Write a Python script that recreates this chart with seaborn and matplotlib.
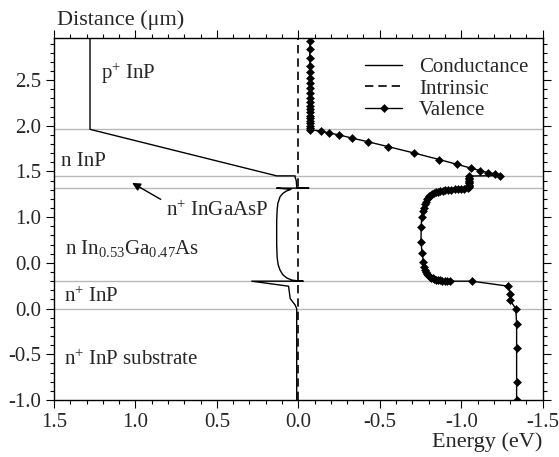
import numpy as np
import pandas as pd
import matplotlib
matplotlib.use('Agg')
import matplotlib.pyplot as plt
import seaborn as sns

# layer boundaries (um)
boundaries = [0.0, 0.30, 1.32, 1.45, 1.96]

# conduction band: energy (eV), distance (um), bottom to top
cond_e = [0.01, 0.01, 0.02, 0.05, 0.06, 0.286, -0.03, 0.01, 0.04, 0.071, 0.095, 0.112,
          0.124, 0.13, 0.133, 0.133, 0.13, 0.126, 0.112, 0.095, 0.075, 0.045, 0.133,
          -0.065, 0.01, 0.01, 0.013, 0.02, 0.02, 0.133, 1.279, 1.279]
cond_d = [-1.0, 0.0, 0.04, 0.11, 0.245, 0.30, 0.30, 0.305, 0.312, 0.335, 0.37, 0.42,
          0.48, 0.56, 0.70, 0.96, 1.08, 1.15, 1.225, 1.26, 1.285, 1.305, 1.318,
          1.318, 1.325, 1.34, 1.40, 1.44, 1.452, 1.452, 1.961, 2.97]

# intrinsic level
intr_e = [0.0, 0.0]
intr_d = [-1.0, 2.97]

# valence band
val_e = [-1.34, -1.34, -1.34, -1.34, -1.335, -1.30, -1.30, -1.29, -1.065,
         -0.93, -0.915, -0.90, -0.885, -0.87, -0.858, -0.846, -0.835, -0.825, -0.815,
         -0.806, -0.798, -0.791, -0.785, -0.779, -0.773, -0.768, -0.76, -0.753, -0.754,
         -0.758, -0.765, -0.77, -0.776, -0.782, -0.788, -0.795, -0.803, -0.812, -0.822,
         -0.833, -0.845, -0.858, -0.872, -0.887, -0.903, -0.92, -0.94, -0.96, -0.98,
         -1.00, -1.02, -1.04, -1.05, -1.05, -1.05, -1.05, -1.05, -1.05, -1.05, -1.05,
         -1.05, -1.24, -1.206, -1.167, -1.118, -1.059, -0.975, -0.866, -0.713, -0.553,
         -0.430, -0.328, -0.252, -0.191, -0.137, -0.072, -0.07, -0.07, -0.07, -0.07,
         -0.07, -0.07, -0.07, -0.07, -0.07, -0.07, -0.07, -0.07, -0.07, -0.07, -0.07,
         -0.07, -0.07, -0.07, -0.07, -0.07, -0.07]
val_d = [-1.0, -0.80, -0.43, -0.165, 0.0, 0.09, 0.165, 0.245, 0.30,
         0.30, 0.301, 0.303, 0.305, 0.308, 0.312, 0.317, 0.323, 0.330, 0.339,
         0.35, 0.363, 0.378, 0.395, 0.42, 0.455, 0.51, 0.605, 0.73, 0.895,
         1.005, 1.07, 1.10, 1.14, 1.17, 1.195, 1.215, 1.232, 1.246, 1.258,
         1.267, 1.275, 1.281, 1.286, 1.290, 1.294, 1.297, 1.30, 1.303, 1.306,
         1.309, 1.312, 1.316, 1.325, 1.34, 1.355, 1.37, 1.385, 1.40, 1.415, 1.43,
         1.45, 1.455, 1.475, 1.487, 1.508, 1.537, 1.578, 1.630, 1.701, 1.771,
         1.824, 1.866, 1.899, 1.921, 1.940, 1.958, 1.975, 2.003, 2.025, 2.054,
         2.083, 2.111, 2.148, 2.184, 2.219, 2.263, 2.307, 2.355, 2.409, 2.464, 2.525,
         2.590, 2.655, 2.742, 2.837, 2.925, 2.97]

ytick_pos = [-1.0, -0.5, 0.0, 0.5, 1.0, 1.5, 2.0, 2.5]
ytick_lab = ['-1.0', '-0.5', '0.0', '0.0', '1.0', '1.5', '2.0', '2.5']
xtick_pos = [1.5, 1.0, 0.5, 0.0, -0.5, -1.0, -1.5]
xtick_lab = ['1.5', '1.0', '0.5', '0.0', '-0.5', '-1.0', '-1.5']

sns.set_style('ticks')
plt.rcParams['font.family'] = ['Liberation Serif', 'DejaVu Serif']
plt.rcParams['mathtext.fontset'] = 'custom'
plt.rcParams['mathtext.rm'] = 'Liberation Serif'
plt.rcParams['mathtext.it'] = 'Liberation Serif:italic'

fig = plt.figure(figsize=(5.59, 4.57), dpi=100)
ax = fig.add_axes([0.0966, 0.1247, 0.8742, 0.7921])

for b in boundaries:
    ax.axhline(b, color='#b8b8b8', lw=1.0, zorder=1)

cond = pd.DataFrame({'e': cond_e, 'd': cond_d})
intr = pd.DataFrame({'e': intr_e, 'd': intr_d})
val = pd.DataFrame({'e': val_e, 'd': val_d})

sns.lineplot(data=cond, x='e', y='d', sort=False, estimator=None, color='black',
             lw=1.0, ax=ax, label='Conductance', zorder=3)
sns.lineplot(data=intr, x='e', y='d', sort=False, estimator=None, color='black',
             lw=1.2, ax=ax, label='Intrinsic', zorder=3)
ax.lines[-1].set_dashes([5, 3])
sns.lineplot(data=val, x='e', y='d', sort=False, estimator=None, color='black',
             lw=1.0, marker='D', markersize=3.8, markeredgewidth=0.4,
             markeredgecolor='black', markerfacecolor='black',
             markevery=list(range(len(val_e) - 1)), ax=ax, label='Valence', zorder=3)

ax.set_xlim(1.5, -1.5)
ax.set_ylim(-1.0, 2.96)
ax.set_xticks(xtick_pos)
ax.set_xticklabels(xtick_lab)
ax.set_yticks(ytick_pos)
ax.set_yticklabels(ytick_lab)
ax.xaxis.set_minor_locator(matplotlib.ticker.MultipleLocator(0.1))
ax.yaxis.set_minor_locator(matplotlib.ticker.MultipleLocator(0.1))
ax.tick_params(which='both', direction='out', top=True, right=True,
               labelsize=15, width=0.8, color='black')
ax.tick_params(which='major', length=6)
ax.tick_params(which='minor', length=3)
for s in ax.spines.values():
    s.set_linewidth(1.0)
    s.set_color('black')
ax.set_xlabel('')
ax.set_ylabel('')

fs = 15
ax.text(1.21, 2.57, 'p$^{+}$ InP', fontsize=fs, va='center', ha='left')
ax.text(1.46, 1.61, 'n InP', fontsize=fs, va='center', ha='left')
ax.text(0.81, 1.07, 'n$^{+}$ InGaAsP', fontsize=fs, va='center', ha='left')
ax.annotate('', xy=(1.035, 1.39), xytext=(0.83, 1.18),
            arrowprops=dict(arrowstyle='-|>', color='black', lw=1.0, mutation_scale=12))
ax.text(1.43, 0.66, 'n In$_{0.53}$Ga$_{0.47}$As', fontsize=fs, va='center', ha='left')
ax.text(1.44, 0.13, 'n$^{+}$ InP', fontsize=fs, va='center', ha='left')
ax.text(1.44, -0.56, 'n$^{+}$ InP substrate', fontsize=fs, va='center', ha='left')

leg = ax.legend(loc='upper left', bbox_to_anchor=(0.615, 0.975), frameon=False,
                fontsize=fs, handlelength=1.8, labelspacing=0.1, borderpad=0,
                handletextpad=0.8)

fig.text(0.102, 0.956, 'Distance (\u03bcm)', fontsize=16, va='center', ha='left')
fig.text(0.971, 0.032, 'Energy (eV)', fontsize=16, va='center', ha='right')

fig.savefig('out.png', dpi=100)
